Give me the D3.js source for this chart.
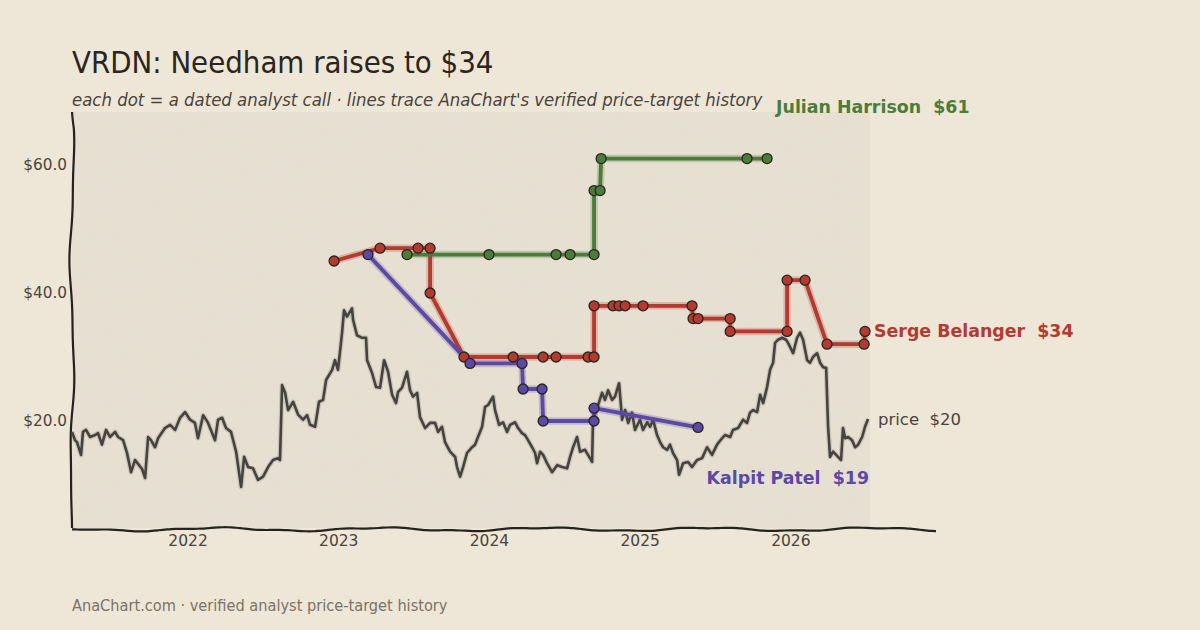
<!DOCTYPE html>
<html><head><meta charset="utf-8">
<script src="https://cdn.jsdelivr.net/npm/d3@7"></script>
<style>
html,body{margin:0;padding:0;background:#EEE6D6;}
svg{display:block;}
</style></head><body><svg id="c" width="1200" height="630"></svg>
<script>
// ---------- data ----------
const titleText = "VRDN: Needham raises to $34";
const subtitleText = "each dot = a dated analyst call \u00b7 lines trace AnaChart's verified price-target history";
const footerText = "AnaChart.com \u00b7 verified analyst price-target history";
const yearTicks = [2022, 2023, 2024, 2025, 2026];
const yearLabels = ["2022", "2023", "2024", "2025", "2026"];
const priceTicks = [20, 40, 60];

// share price (decimal year, $)
const priceT = [2021.230,2021.250,2021.263,2021.290,2021.303,2021.323,2021.350,2021.383,2021.403,2021.429,2021.456,2021.482,2021.516,2021.536,2021.569,2021.595,2021.622,2021.648,2021.675,2021.695,2021.715,2021.735,2021.754,2021.781,2021.801,2021.847,2021.881,2021.914,2021.947,2021.980,
2022.013,2022.046,2022.066,2022.100,2022.133,2022.179,2022.199,2022.226,2022.252,2022.285,2022.319,2022.352,2022.372,2022.398,2022.431,2022.464,2022.498,2022.531,2022.564,2022.597,2022.610,2022.624,2022.644,2022.664,2022.697,2022.730,2022.763,2022.790,2022.810,2022.843,2022.869,2022.896,2022.916,2022.956,2022.975,2022.995,
2023.022,2023.035,2023.055,2023.088,2023.095,2023.121,2023.155,2023.181,2023.188,2023.221,2023.248,2023.274,2023.301,2023.327,2023.354,2023.380,2023.393,2023.420,2023.453,2023.473,2023.493,2023.520,2023.539,2023.573,2023.606,2023.639,2023.659,2023.685,2023.705,2023.739,2023.772,2023.785,2023.805,2023.825,2023.851,2023.885,2023.904,2023.924,2023.951,2023.971,2023.991,
2024.024,2024.037,2024.064,2024.090,2024.117,2024.137,2024.170,2024.190,2024.216,2024.236,2024.256,2024.283,2024.303,2024.316,2024.336,2024.356,2024.382,2024.415,2024.449,2024.482,2024.515,2024.535,2024.555,2024.581,2024.601,2024.634,2024.654,2024.681,2024.687,2024.714,2024.747,2024.767,2024.787,2024.814,2024.833,2024.860,2024.880,2024.900,2024.920,2024.946,2024.966,2024.999,
2025.019,2025.046,2025.066,2025.086,2025.112,2025.132,2025.152,2025.179,2025.198,2025.218,2025.245,2025.258,2025.285,2025.318,2025.344,2025.378,2025.411,2025.444,2025.477,2025.510,2025.543,2025.563,2025.597,2025.616,2025.650,2025.683,2025.709,2025.729,2025.749,2025.776,2025.796,2025.816,2025.842,2025.862,2025.882,2025.895,2025.915,2025.942,2025.968,2025.981,
2026.015,2026.041,2026.061,2026.081,2026.108,2026.127,2026.147,2026.174,2026.194,2026.214,2026.234,2026.247,2026.260,2026.280,2026.313,2026.333,2026.346,2026.360,2026.380,2026.406,2026.426,2026.446,2026.473,2026.492,2026.512];
const priceV = [18.3,17.0,16.7,14.7,18.3,18.6,17.5,17.8,18.1,16.3,18.6,17.5,18.3,17.5,17.0,15.0,12.0,13.9,13.1,12.5,11.1,17.5,17.0,15.9,17.3,18.9,19.4,18.6,20.5,21.4,
20.2,19.7,17.3,20.9,19.7,17.0,20.2,20.5,18.9,18.3,15.2,9.7,14.4,12.8,12.6,10.8,11.3,12.8,13.9,14.2,13.9,25.6,24.4,21.7,23.0,21.0,20.2,20.9,19.4,19.1,23.0,23.3,26.4,28.0,29.5,28.0,
33.8,37.3,36.3,37.6,35.8,33.4,33.0,33.0,29.5,27.5,25.3,25.2,29.5,27.7,24.1,22.8,24.5,25.2,27.7,24.8,23.8,24.4,20.6,18.9,19.7,19.7,18.3,19.1,16.7,15.2,14.4,12.8,11.3,12.8,15.0,15.9,16.3,17.5,19.1,22.2,22.5,
23.8,21.7,19.4,19.8,18.3,19.4,19.8,18.9,18.1,17.8,17.0,15.9,15.0,13.4,15.2,14.7,13.4,12.0,13.1,12.8,12.6,14.4,15.9,17.5,15.2,15.5,14.7,13.6,20.2,22.0,24.4,23.3,24.8,23.3,23.8,25.9,20.2,21.7,19.7,21.3,18.6,20.2,
18.6,19.8,19.1,20.2,17.8,16.7,15.9,15.5,16.3,15.0,13.9,11.6,13.4,13.6,12.8,13.9,14.2,15.9,14.7,16.3,17.3,17.8,17.5,18.6,18.9,20.2,19.7,21.3,21.7,21.4,24.1,22.8,25.3,28.0,29.1,32.2,32.7,33.0,32.7,32.2,
30.6,33.0,33.8,32.7,29.5,29.1,30.0,30.6,29.1,28.4,28.3,19.1,14.4,15.2,14.4,13.9,18.9,17.3,17.5,17.0,15.9,16.3,17.5,19.1,20.3];

// analyst price targets (decimal year, $)
const sergeT = [2022.969,2023.274,2023.526,2023.606,2023.606,2023.831,2024.157,2024.356,2024.442,2024.654,2024.694,2024.694,2024.820,2024.860,2024.900,2025.019,2025.344,2025.351,2025.384,2025.597,2025.597,2025.975,2025.975,2026.094,2026.240,2026.486,2026.492];
const sergeV = [45,47,47,47,40,30,30,30,30,30,30,38,38,38,38,38,38,36,36,36,34,34,42,42,32,32,34];
const julianT = [2023.453,2023.997,2024.442,2024.535,2024.694,2024.694,2024.734,2024.741,2025.709,2025.842];
const julianV = [46,46,46,46,46,56,56,61,61,61];
const kalpitT = [2023.194,2023.871,2024.216,2024.223,2024.349,2024.356,2024.694,2024.694,2025.384];
const kalpitV = [46,29,29,25,25,20,20,22,19];

const analystNames = ["Serge Belanger", "Julian Harrison", "Kalpit Patel"];
const analystColors = ["#B43A30", "#4B7C3B", "#5B49A3"];

// ---------- layout ----------
const svg = d3.select("#c");
const L = 72, R = 870, T = 112, B = 528;
const x = d3.scaleLinear().domain([2021.23, 2026.525]).range([L, R]);
const y = d3.scaleLinear().domain([3.28, 68.28]).range([B, T]);
const condensed = "'DejaVu Sans Condensed','DejaVu Sans',sans-serif";
const sans = "'DejaVu Sans',sans-serif";

const defs = svg.append("defs");
const f = defs.append("filter").attr("id", "noise").attr("x", 0).attr("y", 0).attr("width", "100%").attr("height", "100%");
f.append("feTurbulence").attr("type", "fractalNoise").attr("baseFrequency", 0.9).attr("numOctaves", 2).attr("seed", 3).attr("result", "n");
f.append("feColorMatrix").attr("type", "matrix").attr("values", "0 0 0 0 0.45  0 0 0 0 0.40  0 0 0 0 0.33  0 0 0 0.05 0");
f.append("feComposite").attr("in2", "SourceGraphic").attr("operator", "in");

svg.append("rect").attr("width", 1200).attr("height", 630).attr("fill", "#EEE6D6");
svg.append("rect").attr("x", L).attr("y", T).attr("width", R - L).attr("height", B - T).attr("fill", "#E8E1D3");
svg.append("rect").attr("x", L).attr("y", T).attr("width", R - L).attr("height", B - T).attr("fill", "#E8E1D3").attr("filter", "url(#noise)");

// titles
svg.append("text").attr("x", 72).attr("y", 73).text(titleText)
  .style("font-family", condensed).style("font-stretch", "condensed").style("font-size", "30.8px").attr("fill", "#2A2520");
svg.append("text").attr("x", 72).attr("y", 106).text(subtitleText)
  .style("font-family", condensed).style("font-stretch", "condensed").style("font-style", "italic").style("font-size", "18.4px").attr("fill", "#4A443D");
svg.append("text").attr("x", 72).attr("y", 611).text(footerText)
  .style("font-family", condensed).style("font-stretch", "condensed").style("font-size", "16.2px").attr("fill", "#7A7368");

// axes (hand-drawn wobble)
const leftWob = d3.range(0, 101).map(i => {
  const yy = T + (B - T) * i / 100;
  const t = (yy - T) / (B - T);
  const w = 2.0 * Math.sin(t * 12.5 + 0.2) * (t < 0.04 ? t / 0.04 : 1) + 0.6 * Math.sin(t * 31);
  return [L + w * (1 - Math.pow(t, 8)), yy];
});
svg.append("path").attr("d", d3.line()(leftWob)).attr("fill", "none").attr("stroke", "#26221E").attr("stroke-width", 2.2);
const botWob = d3.range(0, 201).map(i => {
  const xx = L + (936 - L) * i / 200;
  const s = (xx - L);
  return [xx, B + 1.3 + 1.6 * Math.sin(s / 26 - 0.9) * Math.min(1, s / 40) + 0.6 * Math.sin(s / 9)];
});
svg.append("path").attr("d", d3.line().curve(d3.curveBasis)(botWob)).attr("fill", "none").attr("stroke", "#26221E").attr("stroke-width", 2.2);

// tick labels
svg.append("g").selectAll("text").data(priceTicks).join("text")
  .attr("x", 67).attr("y", d => y(d) + 5.5).attr("text-anchor", "end")
  .style("font-family", sans).style("font-size", "15.3px").attr("fill", "#4A443D")
  .text(d => "$" + d3.format(".1f")(d));
svg.append("g").selectAll("text").data(yearTicks).join("text")
  .attr("x", d => x(d)).attr("y", 546).attr("text-anchor", "middle")
  .style("font-family", sans).style("font-size", "15.5px").attr("fill", "#4A443D")
  .text((d, i) => yearLabels[i]);

// price line
const priceData = priceT.map((t, i) => [t, priceV[i]]);
const line = d3.line().x(d => x(d[0])).y(d => y(d[1]));
svg.append("path").datum(priceData).attr("d", line).attr("fill", "none")
  .attr("stroke", "#4A4642").attr("stroke-opacity", 0.18).attr("stroke-width", 5).attr("stroke-linejoin", "round");
svg.append("path").datum(priceData).attr("d", line).attr("fill", "none")
  .attr("stroke", "#46423E").attr("stroke-width", 2.6).attr("stroke-linejoin", "round");

// analysts
const series = [
  sergeT.map((t, i) => [t, sergeV[i]]),
  julianT.map((t, i) => [t, julianV[i]]),
  kalpitT.map((t, i) => [t, kalpitV[i]])
];
const gl = svg.append("g");
series.forEach((s, k) => {
  gl.append("path").datum(s).attr("d", line).attr("fill", "none").attr("stroke", analystColors[k])
    .attr("stroke-opacity", 0.25).attr("stroke-width", 7.5).attr("stroke-linejoin", "round");
  gl.append("path").datum(s).attr("d", line).attr("fill", "none").attr("stroke", analystColors[k])
    .attr("stroke-width", 3.8).attr("stroke-linejoin", "round");
});
series.forEach((s, k) => {
  svg.append("g").selectAll("circle").data(s).join("circle")
    .attr("cx", d => x(d[0])).attr("cy", d => y(d[1])).attr("r", 5)
    .attr("fill", analystColors[k]).attr("stroke", "#2A2420").attr("stroke-width", 1.3);
});

// end labels
const lastOf = s => s[s.length - 1];
const lab = (k, xx, yy, anchor) => svg.append("text").attr("x", xx).attr("y", yy).attr("text-anchor", anchor)
  .style("font-family", sans).style("font-weight", "bold").style("font-size", "17.4px").attr("fill", analystColors[k])
  .attr("xml:space", "preserve")
  .text(analystNames[k] + "  $" + lastOf(series[k])[1]);
lab(0, x(lastOf(series[0])[0]) + 9, y(lastOf(series[0])[1]) + 6, "start");
lab(1, x(lastOf(series[1])[0]) + 9, y(lastOf(series[1])[1]) - 45.5, "start");
lab(2, R - 1, y(lastOf(series[2])[1]) + 57, "end");
const lp = lastOf(priceData);
svg.append("text").attr("x", x(lp[0]) + 10).attr("y", y(lp[1]) + 6).attr("xml:space", "preserve")
  .style("font-family", sans).style("font-size", "16.5px").attr("fill", "#4A443D")
  .text("price  $" + Math.round(lp[1]));
</script></body></html>
